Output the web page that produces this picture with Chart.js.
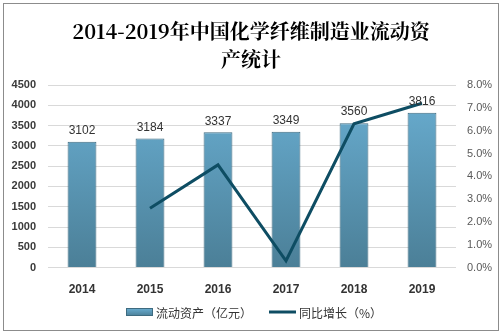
<!DOCTYPE html>
<html><head><meta charset="utf-8">
<script src="https://cdn.jsdelivr.net/npm/chart.js@4/dist/chart.umd.min.js"></script>
<style>html,body{margin:0;padding:0;background:#fff}#wrap{width:502px;height:336px}</style>
</head><body><div id="wrap"><canvas id="c" width="502" height="336"></canvas></div>
<script>
const categories = ['2014','2015','2016','2017','2018','2019'];
const assets = [3102, 3184, 3337, 3349, 3560, 3816];
const growth = [null, 2.6, 4.5, 0.3, 6.3, 7.2];
const leftTicks = [0, 4500, 500];
const rightTicks = [0, 8, 1];
const titleLines = ['2014-2019年中国化学纤维制造业流动资', '产统计'];
const seriesNames = ['流动资产（亿元）', '同比增长（%）'];

const frame = {
  id: 'frame',
  beforeDraw(chart) {
    const ctx = chart.ctx;
    ctx.save();
    ctx.fillStyle = '#fff';
    ctx.fillRect(0, 0, chart.width, chart.height);
    ctx.strokeStyle = '#8c8c8c';
    ctx.lineWidth = 1;
    ctx.strokeRect(3.5, 3.5, 495, 327);
    ctx.restore();
  }
};
const barLabels = {
  id: 'barLabels',
  afterDatasetsDraw(chart) {
    const ctx = chart.ctx;
    const meta = chart.getDatasetMeta(0);
    ctx.save();
    ctx.font = '12px "Liberation Sans", Arial, sans-serif';
    ctx.fillStyle = '#333';
    ctx.textAlign = 'center';
    ctx.textBaseline = 'middle';
    meta.data.forEach((el, i) => {
      ctx.fillText(String(assets[i]), el.x, el.y - 11);
    });
    ctx.restore();
  }
};
const customLegend = {
  id: 'customLegend',
  afterDraw(chart) {
    const ctx = chart.ctx;
    const y = 312;
    ctx.save();
    ctx.font = '12px "Noto Sans CJK SC", sans-serif';
    ctx.textBaseline = 'middle';
    ctx.textAlign = 'left';
    const w0 = ctx.measureText(seriesNames[0]).width;
    const sw = 27, gap = 3, between = 17;
    let x = 126;
    const g = ctx.createLinearGradient(0, y - 4, 0, y + 4);
    g.addColorStop(0, '#6aafd3'); g.addColorStop(1, '#4b7f97');
    ctx.fillStyle = g;
    ctx.fillRect(x, y - 4, sw, 8);
    ctx.strokeStyle = '#3e6b80'; ctx.lineWidth = 1;
    ctx.strokeRect(x + 0.5, y - 3.5, sw - 1, 7);
    x += sw + gap;
    ctx.fillStyle = '#333';
    ctx.fillText(seriesNames[0], x, y + 1);
    x += w0 + between;
    ctx.strokeStyle = '#0e4d63'; ctx.lineWidth = 3;
    ctx.beginPath(); ctx.moveTo(x, y); ctx.lineTo(x + sw, y); ctx.stroke();
    x += sw + gap;
    ctx.fillStyle = '#333';
    ctx.fillText(seriesNames[1], x, y + 1);
    ctx.restore();
  }
};

function barGrad(context) {
  const chart = context.chart;
  const a = chart.chartArea;
  if (!a) return '#5b9dbd';
  const g = chart.ctx.createLinearGradient(0, a.top, 0, a.bottom);
  g.addColorStop(0, '#6aafd3');
  g.addColorStop(1, '#4b7f97');
  return g;
}

new Chart(document.getElementById('c'), {
  data: {
    labels: categories,
    datasets: [
      { type: 'bar', label: seriesNames[0], data: assets, yAxisID: 'y',
        backgroundColor: barGrad, borderColor: '#3e6b80', borderWidth: 1,
        categoryPercentage: 0.8, barPercentage: 0.53, order: 2 },
      { type: 'line', label: seriesNames[1], data: growth, yAxisID: 'y1',
        borderColor: '#0e4d63', borderWidth: 3, pointRadius: 0, tension: 0,
        fill: false, order: 1 }
    ]
  },
  options: {
    responsive: false,
    animation: false,
    layout: { padding: { top: 4, left: 0, right: 0, bottom: 32 } },
    plugins: {
      title: { display: true, text: titleLines, color: '#000',
        font: { family: '"Noto Serif CJK SC", "Noto Sans CJK SC", serif', size: 20, weight: 'bold', lineHeight: 1.4 },
        padding: { top: 13, bottom: 12 } },
      legend: { display: false },
      tooltip: { enabled: false }
    },
    scales: {
      x: { grid: { display: false }, border: { display: false },
        ticks: { color: '#333', padding: 7, font: { family: '"Liberation Sans", Arial, sans-serif', size: 12, weight: 'bold' } } },
      y: { position: 'left', min: leftTicks[0], max: leftTicks[1],
        ticks: { stepSize: leftTicks[2], color: '#3a3a3a', padding: 12,
          callback: v => String(v),
          font: { family: '"Liberation Sans", Arial, sans-serif', size: 11, weight: 'bold' } },
        grid: { color: '#d9d9d9', drawTicks: false }, border: { display: false },
        afterFit(s) { s.width = 48; } },
      y1: { position: 'right', min: rightTicks[0], max: rightTicks[1],
        ticks: { stepSize: rightTicks[2], color: '#595959', padding: 11,
          callback: v => v.toFixed(1) + '%',
          font: { family: '"Liberation Sans", Arial, sans-serif', size: 11 } },
        grid: { display: false, drawTicks: false }, border: { display: false },
        afterFit(s) { s.width = 46; } }
    }
  },
  plugins: [frame, barLabels, customLegend]
});
</script></body></html>
